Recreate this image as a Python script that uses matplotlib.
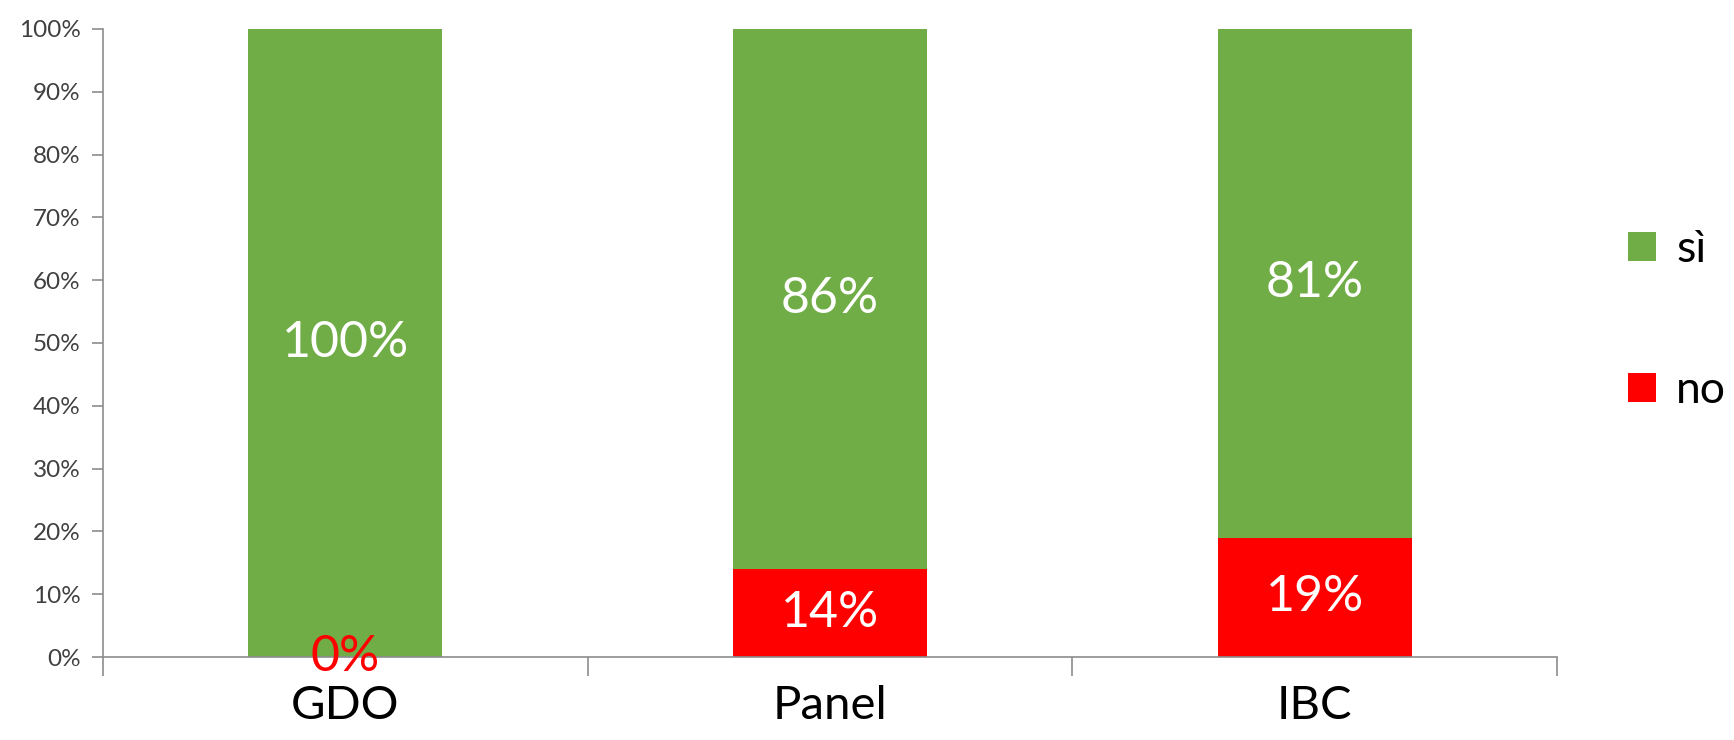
import numpy as np
import matplotlib
matplotlib.use("Agg")
import matplotlib.pyplot as plt
from matplotlib.ticker import PercentFormatter

plt.rcParams['font.family'] = ['Lato', 'DejaVu Sans']

# categories and shares (percent)
categories = ["GDO", "Panel", "IBC"]
si_values = [100, 86, 81]
no_values = [0, 14, 19]
series_labels = ["sì", "no"]

green = "#70AD47"
red = "#FF0000"
axis_grey = "#8C8C8C"

fig = plt.figure(figsize=(17.34, 7.4), dpi=100)
ax = fig.add_axes([0.0594, 0.112, 0.8386, 0.849])

x = np.arange(len(categories))
width = 0.4

no_bars = ax.bar(x, no_values, width, color=red, label=series_labels[1])
si_bars = ax.bar(x, si_values, width, bottom=no_values, color=green, label=series_labels[0])

# value labels centred in each segment
for xi, n, s in zip(x, no_values, si_values):
    ax.text(xi, n + s / 2, f"{s}%", ha="center", va="center",
            color="white", fontsize=36)
    ax.text(xi, n / 2, f"{n}%", ha="center", va="center",
            color="white" if n > 0 else red, fontsize=36)

ax.set_xlim(-0.5, len(categories) - 0.5)
ax.set_ylim(0, 100)
ax.yaxis.set_major_locator(plt.MultipleLocator(10))
ax.yaxis.set_major_formatter(PercentFormatter(decimals=0))

# category names between boundary ticks
ax.set_xticks(np.arange(len(categories) + 1) - 0.5)
ax.set_xticklabels([])
ax.set_xticks(x, minor=True)
ax.set_xticklabels(categories, minor=True, fontsize=34)
ax.tick_params(axis="x", which="minor", length=0, pad=20)
ax.tick_params(axis="x", which="major", length=14, color=axis_grey, width=1.2)
ax.tick_params(axis="y", length=8, color=axis_grey, width=1.2,
               labelsize=17.5, labelcolor="#404040", pad=8)

for side in ["top", "right"]:
    ax.spines[side].set_visible(False)
for side in ["left", "bottom"]:
    ax.spines[side].set_color(axis_grey)
    ax.spines[side].set_linewidth(1.2)

fig.legend(handles=[si_bars, no_bars], labels=series_labels,
           loc="upper left", bbox_to_anchor=(0.916, 0.745),
           frameon=False, fontsize=32, handlelength=0.63, handleheight=0.63,
           handletextpad=0.45, labelspacing=2.25)

fig.savefig("out.png", dpi=100)
